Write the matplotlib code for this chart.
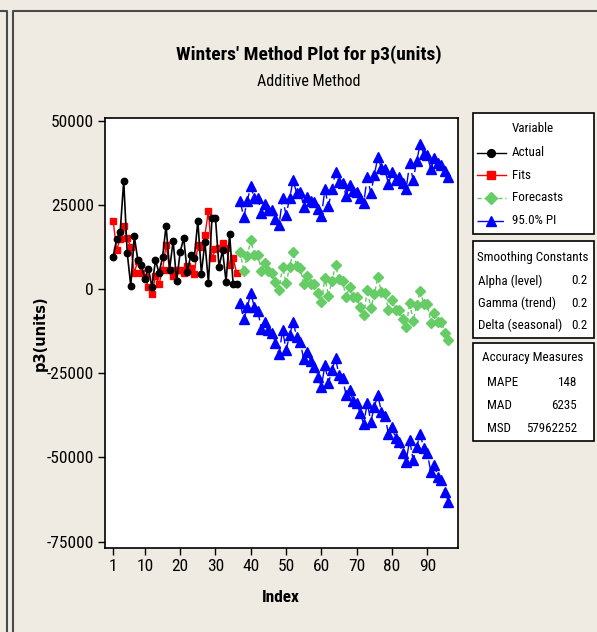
import matplotlib
matplotlib.use("Agg")
import matplotlib.pyplot as plt
import matplotlib.font_manager as fm
from matplotlib.patches import Rectangle
from matplotlib.lines import Line2D
import numpy as np

# observed series and one-step fits (periods 1-36)
actual = [9600, 14800, 17000, 32100, 10700, 900, 15700, 8600, 7000, 3000,
          6100, 600, 8600, 4800, 9400, 18800, 5800, 14400, 2300, 11100,
          15100, 5000, 10000, 9200, 20300, 4600, 14000, 1900, 21100, 21000,
          6500, 11500, 2200, 16400, 1500, 1500]
fits = [20300, 11600, 14900, 18800, 15100, 12400, 4800, 8400, 4700, 3700,
        500, -1500, 3900, 1500, 5600, 13100, 5800, 3900, 5800, 5800,
        4700, 6800, 6200, 4500, 13100, 12600, 16100, 23200, 9100, 11900,
        12300, 13700, 12300, 7200, 9100, 4800]

# forecasts with 95% prediction limits (periods 37-96)
forecasts = [11080, 5340, 9890, 14550, 10090, 10090, 5340, 7630, 5340, 4660,
             1990, -300, 6620, 1690, 6620, 11080, 6920, 6320, 1390, 3950,
             1390, 1390, -1280, -3950, 3360, -1990, 2380, 7130, 2970, 2400,
             -2470, 690, -2470, -2470, -5250, -7720, -300, -5730, -1480, 3470,
             -800, -1280, -6240, -3270, -6240, -6240, -9000, -11380, -4060, -9410,
             -4750, -500, -4450, -4450, -10000, -7030, -9700, -9700, -12970, -15140]
upper = [26220, 21280, 26220, 30580, 26920, 26920, 22650, 25240, 23460, 23460,
         20690, 19000, 26920, 21970, 26920, 32360, 28410, 28890, 24440, 27410,
         26220, 25920, 23660, 21670, 29600, 24640, 29600, 34830, 31860, 31560,
         27610, 30880, 29190, 28890, 26920, 25620, 33340, 28410, 33850, 39280,
         35840, 35540, 31180, 34830, 32360, 33340, 31380, 29600, 37320, 32360,
         38100, 43050, 40080, 39790, 35540, 38800, 37320, 36810, 35140, 33340]
lower = [-4250, -9000, -5430, -1280, -5250, -6440, -11970, -9710, -12170, -12970,
         -15940, -19300, -12170, -18110, -13660, -9710, -14160, -15650, -20880, -18620,
         -21280, -23250, -26040, -29010, -22570, -28000, -24050, -20580, -25530, -26520,
         -31470, -29990, -33160, -33760, -36910, -40080, -33760, -39390, -34950, -31470,
         -36430, -37710, -43050, -40880, -44330, -45330, -48780, -51270, -44830, -50770,
         -46820, -43050, -47310, -48780, -54240, -52260, -55730, -56710, -60180, -63150]

x_ticks = [1, 10, 20, 30, 40, 50, 60, 70, 80, 90]
y_ticks = [-75000, -50000, -25000, 0, 25000, 50000]

smoothing = [("Alpha (level)", "0.2"), ("Gamma (trend)", "0.2"), ("Delta (seasonal)", "0.2")]
accuracy = [("MAPE", "148"), ("MAD", "6235"), ("MSD", "57962252")]

# pick a narrow face for the Minitab-style lettering
names = {f.name for f in fm.fontManager.ttflist}
narrow, stretch = "DejaVu Sans", "condensed"
for cand in ["Liberation Sans Narrow", "Roboto Condensed", "Open Sans Condensed", "Arial Narrow"]:
    if cand in names:
        narrow, stretch = cand, "normal"
        break
nf = dict(family=narrow, stretch=stretch)

plt.rcParams["axes.unicode_minus"] = False

BG = "#EFEBE2"
W, H = 597, 632
fig = plt.figure(figsize=(W / 100, H / 100), dpi=100, facecolor=BG)

L, R, T, B = 105, 458, 118, 548
ax = fig.add_axes([L / W, 1 - B / H, (R - L) / W, (B - T) / H])
ax.set_facecolor("white")

idx_fit = np.arange(1, len(actual) + 1)
idx_fc = np.arange(len(actual) + 1, len(actual) + len(forecasts) + 1)

# marker styles shared by the plot and the key
styles = {
    "Actual": dict(color="black", lw=1.2, ls="-", marker="o", ms=4.6),
    "Fits": dict(color="red", lw=1, ls="-", marker="s", ms=5),
    "Forecasts": dict(color="#66CC66", lw=1, ls=(0, (3, 2)), marker="D", ms=5.6),
    "95.0% PI": dict(color="blue", lw=1, ls=(0, (8, 3)), marker="^", ms=6.8),
}

ax.plot(idx_fit, actual, zorder=4, **styles["Actual"])
ax.plot(idx_fit, fits, zorder=3, **styles["Fits"])
ax.plot(idx_fc, forecasts, zorder=3, **styles["Forecasts"])
ax.plot(idx_fc, upper, zorder=3, **styles["95.0% PI"])
ax.plot(idx_fc, lower, zorder=3, **styles["95.0% PI"])

ax.set_xlim(-1.3, 98.7)
ax.set_ylim(-76900, 50800)
ax.set_xticks(x_ticks)
ax.set_yticks(y_ticks)
ax.tick_params(direction="out", length=5, width=1, color="black", pad=3)
for lbl in ax.get_xticklabels() + ax.get_yticklabels():
    lbl.set_fontfamily(narrow)
    lbl.set_fontstretch(stretch)
    lbl.set_fontsize(12.5)
for s in ax.spines.values():
    s.set_linewidth(1.2)

# overlay in pixel coordinates for titles, panel frame and side boxes
ov = fig.add_axes([0, 0, 1, 1], facecolor="none")
ov.set_xlim(0, W)
ov.set_ylim(H, 0)
ov.axis("off")

frame_col = "#4A4A4A"
ov.plot([0, 7, 7], [11, 11, H], color=frame_col, lw=1.5)
ov.plot([W, 13, 13], [11, 11, H], color=frame_col, lw=1.5)

ov.text(309, 55, "Winters' Method Plot for p3(units)", ha="center", va="center",
        fontsize=14, fontweight="bold", **nf)
ov.text(309, 82, "Additive Method", ha="center", va="center", fontsize=11.5, **nf)
ov.text(281, 598, "Index", ha="center", va="center", fontsize=12.5, fontweight="bold", **nf)
ov.text(40, 333, "p3(units)", ha="center", va="center", rotation=90,
        fontsize=10.5, fontweight="bold", family="DejaVu Sans")

bx0, bx1 = 473, 594
for top, bot in [(113, 234), (241, 338), (343, 441)]:
    ov.add_patch(Rectangle((bx0, top), bx1 - bx0, bot - top, facecolor="white",
                           edgecolor="black", lw=1.2))

fs = 9.4

# series key
ov.text(533, 129, "Variable", ha="center", va="center", fontsize=fs, **nf)
for i, name in enumerate(["Actual", "Fits", "Forecasts", "95.0% PI"]):
    st = styles[name]
    yy = 152.5 + i * 22.7
    ov.add_line(Line2D([477, 506], [yy, yy], color=st["color"], lw=1, ls=st["ls"]))
    ov.add_line(Line2D([491], [yy], color=st["color"], marker=st["marker"],
                       ms=st["ms"] + 1, ls="none"))
    ov.text(512, yy, name, ha="left", va="center", fontsize=fs, **nf)

ov.text(533, 257, "Smoothing Constants", ha="center", va="center", fontsize=fs, **nf)
for i, (name, val) in enumerate(smoothing):
    yy = 281 + i * 22.2
    ov.text(478, yy, name, ha="left", va="center", fontsize=fs, **nf)
    ov.text(587, yy, val, ha="right", va="center", fontsize=fs, **nf)

ov.text(533, 358, "Accuracy Measures", ha="center", va="center", fontsize=fs, **nf)
for i, (name, val) in enumerate(accuracy):
    yy = 383 + i * 22.5
    ov.text(487, yy, name, ha="left", va="center", fontsize=fs, **nf)
    ov.text(577, yy, val, ha="right", va="center", fontsize=fs, **nf)

fig.savefig("out.png", dpi=100, facecolor=BG)
